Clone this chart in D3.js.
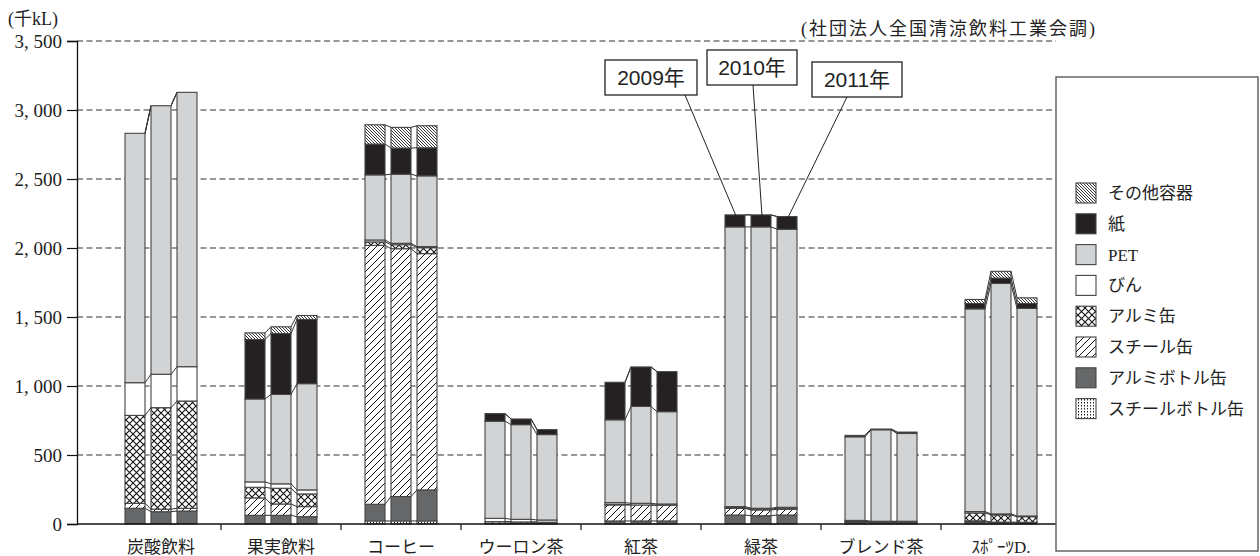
<!DOCTYPE html>
<html><head><meta charset="utf-8">
<script src="https://cdn.jsdelivr.net/npm/d3@7"></script>
<style>
body{margin:0;background:#fff;}
svg{display:block;}
text{font-family:"Liberation Serif","Noto Sans CJK JP",serif;fill:#222;}
</style></head>
<body>
<svg id="c" width="1260" height="556"></svg>
<script>
// ---- data (千kL) ----
const categories = ["炭酸飲料","果実飲料","コーヒー","ウーロン茶","紅茶","緑茶","ブレンド茶","ｽﾎﾟｰﾂD."];
const years = ["2009年","2010年","2011年"];
const seriesNames = ["スチールボトル缶","アルミボトル缶","スチール缶","アルミ缶","びん","PET","紙","その他容器"];
// each: [category][year]
const steelBottle = [[0,0,0],[0,0,0],[22,22,22],[0,0,0],[0,0,0],[0,0,0],[0,0,0],[0,0,0]];
const alBottle    = [[114,89,94],[63,63,53],[121,177,225],[5,5,5],[22,22,22],[65,60,65],[10,8,8],[15,8,8]];
const steelCan    = [[36,18,20],[126,82,73],[1876,1796,1712],[12,10,8],[116,116,114],[49,42,42],[8,6,6],[8,6,5]];
const alCan       = [[637,736,777],[77,114,92],[25,29,43],[0,0,0],[5,0,0],[5,5,7],[0,0,0],[57,52,40]];
const bottle      = [[237,242,249],[39,32,29],[14,10,8],[24,19,16],[12,12,9],[7,7,7],[8,6,6],[10,7,5]];
const pet         = [[1807,1946,1988],[601,648,770],[472,501,513],[704,686,619],[600,702,669],[2027,2039,2015],[606,663,636],[1469,1670,1504]];
const paper       = [[0,0,0],[431,441,465],[223,189,203],[55,41,36],[272,286,290],[87,87,92],[10,5,10],[39,39,36]];
const other       = [[0,0,0],[48,49,29],[140,150,160],[0,0,0],[0,0,0],[0,0,0],[0,0,0],[29,49,41]];
const yTicks = [0,500,1000,1500,2000,2500,3000,3500];

const seriesData = [steelBottle, alBottle, steelCan, alCan, bottle, pet, paper, other];
const fills = ["url(#pDots)","#666768","url(#pSlash)","url(#pCross)","#ffffff","#d1d3d4","#252122","url(#pBack)"];

const svg = d3.select("#c");
svg.append("rect").attr("width",1260).attr("height",556).attr("fill","#fff");

// patterns
const defs = svg.append("defs");
function pat(id, size, draw){
  const p = defs.append("pattern").attr("id",id).attr("patternUnits","userSpaceOnUse")
    .attr("width",size).attr("height",size);
  p.append("rect").attr("width",size).attr("height",size).attr("fill","#fff");
  draw(p);
}
pat("pBack",3,p=>p.append("path").attr("d","M-1,-1L4,4M-1,2L1,4M2,-1L4,1").attr("stroke","#111").attr("stroke-width",0.85));
pat("pSlash",7,p=>p.append("path").attr("d","M-1,8L8,-1M-1,1L1,-1M6,8L8,6").attr("stroke","#111").attr("stroke-width",1));
pat("pCross",7,p=>p.append("path").attr("d","M0,0L7,7M7,0L0,7").attr("stroke","#111").attr("stroke-width",1.1));
pat("pDots",3,p=>p.append("rect").attr("x",1).attr("y",0).attr("width",1).attr("height",1.5).attr("fill","#222"));

// scales
const x0 = d3.scaleBand().domain(categories).range([101,1061]);
const x1 = d3.scaleBand().domain(years).range([24,96]).paddingInner(3-72/26);
const y = d3.scaleLinear().domain([0,3500]).range([524,41]);
const plotL = 77, plotR = 1056;

// gridlines
svg.append("g").selectAll("line").data(yTicks.filter(d=>d>0)).join("line")
  .attr("x1",plotL).attr("x2",plotR).attr("y1",d=>y(d)).attr("y2",d=>y(d))
  .attr("stroke","#333").attr("stroke-width",1.2).attr("stroke-dasharray","6,3.5");

// y axis
const yAxis = d3.axisLeft(y).tickValues(yTicks).tickSize(10).tickPadding(5)
  .tickFormat(d=>d3.format(",")(d).replace(",",", "));
const ya = svg.append("g").attr("transform",`translate(${plotL},0)`).call(yAxis);
ya.select(".domain").attr("stroke","#111").attr("stroke-width",1.3);
ya.selectAll(".tick line").attr("stroke","#111").attr("stroke-width",1.2);
ya.selectAll(".tick text").style("font-size","19px").style("font-family","'Liberation Serif',serif").attr("fill","#222");

// compute stacks
const stacks = categories.map((c,ci)=>years.map((yr,yi)=>{
  let cum = 0; const segs=[];
  seriesData.forEach((s,si)=>{ const v=s[ci][yi]; segs.push({si, y0:cum, y1:cum+v, v}); cum+=v; });
  return segs;
}));

// series lines
const lines = [];
categories.forEach((c,ci)=>{
  for(let yi=0; yi<years.length-1; yi++){
    const a = stacks[ci][yi], b = stacks[ci][yi+1];
    for(let k=0;k<seriesNames.length;k++){
      lines.push({x1:x0(c)+x1(years[yi])+x1.bandwidth(), y1:y(a[k].y1), x2:x0(c)+x1(years[yi+1]), y2:y(b[k].y1)});
    }
  }
});
svg.append("g").selectAll("line").data(lines).join("line")
  .attr("x1",d=>d.x1).attr("y1",d=>d.y1).attr("x2",d=>d.x2).attr("y2",d=>d.y2)
  .attr("stroke","#333").attr("stroke-width",1);

// bars
const segAll = [];
categories.forEach((c,ci)=>years.forEach((yr,yi)=>stacks[ci][yi].forEach(s=>{
  if(s.v>0) segAll.push({x:x0(c)+x1(yr), ...s});
})));
svg.append("g").selectAll("rect").data(segAll).join("rect")
  .attr("x",d=>d.x).attr("width",x1.bandwidth())
  .attr("y",d=>y(d.y1)).attr("height",d=>y(d.y0)-y(d.y1))
  .attr("fill",d=>fills[d.si]).attr("stroke","#444").attr("stroke-width",1.1);

// x axis baseline and ticks
svg.append("line").attr("x1",plotL).attr("x2",plotR).attr("y1",y(0)).attr("y2",y(0))
  .attr("stroke","#111").attr("stroke-width",1.3);
svg.append("g").selectAll("line").data(categories.slice(1)).join("line")
  .attr("x1",d=>x0(d)).attr("x2",d=>x0(d)).attr("y1",y(0)).attr("y2",y(0)+6)
  .attr("stroke","#111").attr("stroke-width",1.2);
svg.append("g").selectAll("text").data(categories).join("text")
  .attr("x",d=>x0(d)+x0.bandwidth()/2).attr("y",553).attr("text-anchor","middle")
  .style("font-size","17px").text(d=>d);

// unit & source
svg.append("text").attr("x",8).attr("y",25).style("font-size","18px").text("(千kL)");
svg.append("text").attr("x",1097).attr("y",35).attr("text-anchor","end")
  .style("font-size","18px").style("letter-spacing","2px").text("(社団法人全国清涼飲料工業会調)");

// year annotations (緑茶)
const ann = [
  {yi:0, bx:605, by:60, bw:92, bh:35, lx:685},
  {yi:1, bx:707, by:50, bw:90, bh:35, lx:753},
  {yi:2, bx:812, by:62, bw:90, bh:35, lx:847}
];
const gc = categories[5];
const ga = svg.append("g");
ann.forEach(a=>{
  const yr = years[a.yi];
  const top = stacks[5][a.yi][seriesNames.length-1].y1;
  ga.append("line").attr("x1",a.lx).attr("y1",a.by+a.bh)
    .attr("x2",x0(gc)+x1(yr)+x1.bandwidth()/2+1).attr("y2",y(top)+1)
    .attr("stroke","#222").attr("stroke-width",1);
  ga.append("rect").attr("x",a.bx).attr("y",a.by).attr("width",a.bw).attr("height",a.bh)
    .attr("fill","#fff").attr("stroke","#222").attr("stroke-width",1.3);
  ga.append("text").attr("x",a.bx+a.bw/2).attr("y",a.by+a.bh/2+7).attr("text-anchor","middle")
    .style("font-family","'Liberation Sans','Noto Sans CJK JP',sans-serif").style("font-size","21px").attr("fill","#111").text(yr);
});

// legend
const lg = svg.append("g");
lg.append("rect").attr("x",1056).attr("y",77).attr("width",202).attr("height",474)
  .attr("fill","#fff").attr("stroke","#666").attr("stroke-width",1.5);
const legendOrder = seriesNames.map((n,i)=>i).reverse();
legendOrder.forEach((si,k)=>{
  const cy = 193 + k*30.8;
  lg.append("rect").attr("x",1076).attr("y",cy-10).attr("width",20).attr("height",20)
    .attr("fill",fills[si]).attr("stroke","#444").attr("stroke-width",1.1);
  lg.append("text").attr("x",1108).attr("y",cy+6).style("font-size","17px").text(seriesNames[si]);
});
</script>
</body></html>
